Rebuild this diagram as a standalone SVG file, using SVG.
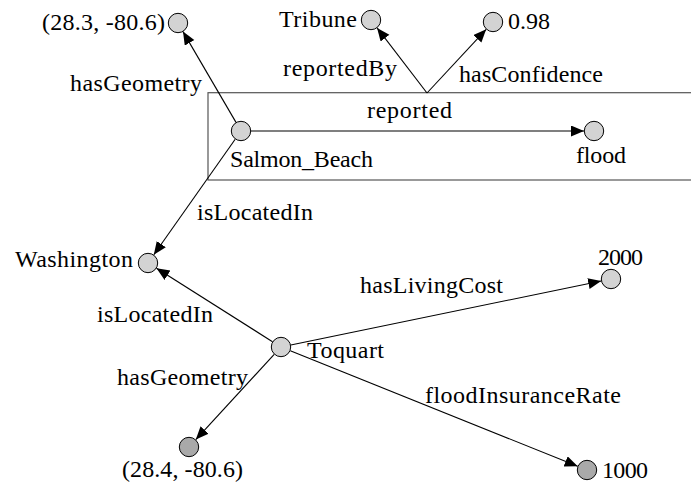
<svg xmlns="http://www.w3.org/2000/svg" width="691" height="487" viewBox="0 0 691 487">
<style>
.t{font-family:"Liberation Serif",serif;font-size:24px;fill:#000}
.n{fill:#d3d3d3;stroke:#000;stroke-width:1}
.d{fill:#a9a9a9;stroke:#000;stroke-width:1}
.e{stroke:#000;stroke-width:1.1;fill:none}
.a{marker-end:url(#ah)}
</style>
<defs>
<marker id="ah" markerUnits="userSpaceOnUse" markerWidth="14" markerHeight="12" refX="13" refY="5.5" orient="auto">
<path d="M0,0 L13,5.5 L0,11 z" fill="#000"/>
</marker>
</defs>
<rect x="208" y="92.7" width="500" height="87.3" fill="none" stroke="#555" stroke-width="1.2"/>
<g id="connectors">
<line class="e a" x1="236" y1="122.4" x2="183" y2="31.6"/>
<line class="e a" x1="235.2" y1="139.2" x2="153.8" y2="254.8"/>
<line class="e a" x1="251" y1="131" x2="584" y2="131"/>
<line class="e a" x1="427" y1="93" x2="377.1" y2="27.9"/>
<line class="e a" x1="427" y1="93" x2="486.2" y2="29.3"/>
<line class="e a" x1="272.5" y1="341.7" x2="156.5" y2="268.3"/>
<line class="e a" x1="290.8" y1="345" x2="601.2" y2="281"/>
<line class="e a" x1="274.2" y1="354.4" x2="195.8" y2="439.6"/>
<line class="e a" x1="290.3" y1="350.7" x2="577.7" y2="466.3"/>
<text class="t" font-family="Liberation Serif" x="70" y="91" textLength="132">hasGeometry</text>
<text class="t" font-family="Liberation Serif" x="283" y="76" textLength="114">reportedBy</text>
<text class="t" font-family="Liberation Serif" x="459" y="82" textLength="144">hasConfidence</text>
<text class="t" font-family="Liberation Serif" x="367" y="118" textLength="85">reported</text>
<text class="t" font-family="Liberation Serif" x="197" y="220" textLength="116">isLocatedIn</text>
<text class="t" font-family="Liberation Serif" x="97" y="322" textLength="116">isLocatedIn</text>
<text class="t" font-family="Liberation Serif" x="117" y="385" textLength="131">hasGeometry</text>
<text class="t" font-family="Liberation Serif" x="360" y="293" textLength="143">hasLivingCost</text>
<text class="t" font-family="Liberation Serif" x="425" y="403" textLength="196">floodInsuranceRate</text>
</g>
<g id="geo1"><circle class="n" cx="178" cy="23" r="9.7"/><text class="t" font-family="Liberation Serif" x="42" y="30" textLength="123">(28.3, -80.6)</text></g>
<g id="tribune"><circle class="n" cx="371" cy="20" r="9.7"/><text class="t" font-family="Liberation Serif" x="279" y="27" textLength="78">Tribune</text></g>
<g id="conf"><circle class="n" cx="493" cy="22" r="9.7"/><text class="t" font-family="Liberation Serif" x="508" y="29" textLength="42">0.98</text></g>
<g id="salmon"><circle class="n" cx="241" cy="131" r="9.7"/><text class="t" font-family="Liberation Serif" x="230" y="167" textLength="143">Salmon_Beach</text></g>
<g id="flood"><circle class="n" cx="594" cy="131" r="9.7"/><text class="t" font-family="Liberation Serif" x="576" y="163" textLength="50">flood</text></g>
<g id="washington"><circle class="n" cx="148" cy="263" r="9.7"/><text class="t" font-family="Liberation Serif" x="15" y="267" textLength="118">Washington</text></g>
<g id="toquart"><circle class="n" cx="281" cy="347" r="9.7"/><text class="t" font-family="Liberation Serif" x="307" y="358" textLength="77">Toquart</text></g>
<g id="cost"><circle class="n" cx="611" cy="279" r="9.7"/><text class="t" font-family="Liberation Serif" x="598" y="265" textLength="45">2000</text></g>
<g id="geo2"><circle class="d" cx="189" cy="447" r="9.7"/><text class="t" font-family="Liberation Serif" x="122" y="477" textLength="121">(28.4, -80.6)</text></g>
<g id="rate"><circle class="d" cx="587" cy="470" r="9.7"/><text class="t" font-family="Liberation Serif" x="602" y="478" textLength="46">1000</text></g>
</svg>
